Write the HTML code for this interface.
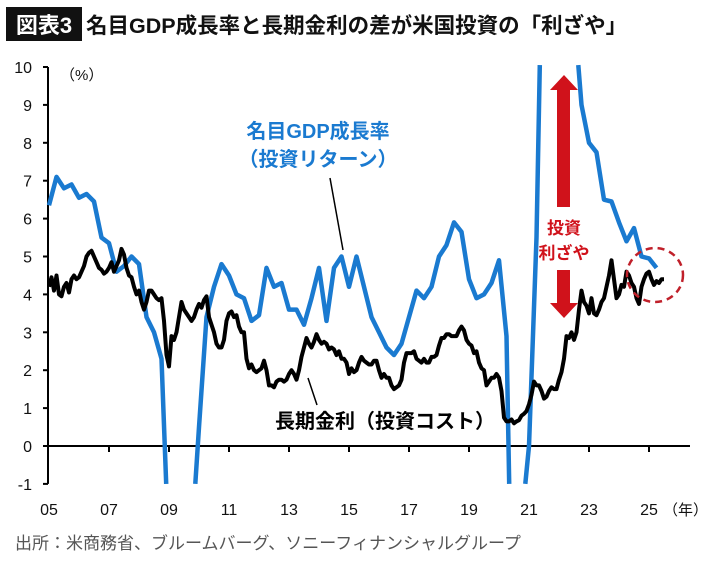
<!DOCTYPE html>
<html><head><meta charset="utf-8"><style>
html,body{margin:0;padding:0;background:#fff;width:710px;height:561px;overflow:hidden;}
svg{display:block;overflow:hidden;font-family:"Liberation Sans","Noto Sans CJK JP",sans-serif;}
</style></head><body>
<svg id="c" width="710" height="561" viewBox="0 0 710 561" xmlns="http://www.w3.org/2000/svg">
<rect x="6" y="7" width="76" height="34" fill="#111"/>
<text x="44" y="33" fill="#fff" font-size="22" font-weight="bold" text-anchor="middle">図表3</text>
<text x="86" y="33" fill="#111" font-size="21.5" font-weight="bold">名目GDP成長率と長期金利の差が米国投資の「利ざや」</text>
<text x="60" y="80" font-size="15" fill="#111">（%）</text>
<g id="axes"></g>
<path id="gdp" fill="none" stroke="#1a7ad0" stroke-width="4.5" stroke-linejoin="round"/>
<polyline id="yield" fill="none" stroke="#000" stroke-width="4" stroke-linejoin="round"/>
<text x="318" y="138" fill="#1a7ad0" font-size="20" font-weight="bold" text-anchor="middle">名目GDP成長率</text>
<text x="318" y="166" fill="#1a7ad0" font-size="20" font-weight="bold" text-anchor="middle">（投資リターン）</text>
<line x1="330" y1="178" x2="343" y2="250" stroke="#000" stroke-width="1.5"/>
<text x="385" y="428" fill="#000" font-size="20" font-weight="bold" text-anchor="middle">長期金利（投資コスト）</text>
<line x1="308" y1="378" x2="317" y2="405" stroke="#000" stroke-width="1.5"/>
<g fill="#d0121b">
<polygon points="564,75 578,90 570,90 570,207 557,207 557,90 550,90"/>
<polygon points="564,318 578,303 570,303 570,270 557,270 557,303 550,303"/>
</g>
<text x="564" y="234" fill="#d0121b" font-size="17" font-weight="bold" text-anchor="middle">投資</text>
<text x="564" y="259" fill="#d0121b" font-size="17" font-weight="bold" text-anchor="middle">利ざや</text>
<ellipse cx="655" cy="275" rx="28" ry="27" fill="none" stroke="#c0202a" stroke-width="2.5" stroke-dasharray="7,5"/>
<text x="15" y="549" fill="#555" font-size="17">出所：米商務省、ブルームバーグ、ソニーフィナンシャルグループ</text>
</svg>
<script>
const yTicks=[10,9,8,7,6,5,4,3,2,1,0,-1];
const xTickLabels=["05","07","09","11","13","15","17","19","21","23","25"];
const xTickYears=[2005,2007,2009,2011,2013,2015,2017,2019,2021,2023,2025];
const gdpStart=2005;
const gdpValues=[6.35,7.1,6.8,6.9,6.55,6.65,6.45,5.5,5.35,4.6,4.75,5.0,4.8,3.4,3.0,2.3,-3,-4,-3,-2.5,0.5,3.4,4.2,4.8,4.5,4.0,3.9,3.3,3.45,4.7,4.2,4.3,3.6,3.6,3.2,3.9,4.7,3.3,4.7,5.0,4.2,5.0,4.2,3.4,3.0,2.6,2.4,2.7,3.4,4.1,3.9,4.2,5.0,5.3,5.9,5.65,4.4,3.9,4.0,4.3,4.9,2.9,-8,-2.0,0.0,5.5,16,15,13,12.5,11.5,9.0,8.0,7.75,6.5,6.45,5.9,5.4,5.75,5.0,4.95,4.7];
const yieldStart=2005;
const yieldValues=[
4.2,4.45,4.1,4.5,4.0,3.95,4.2,4.3,4.05,4.4,4.5,4.4,
4.45,4.6,4.75,5.0,5.1,5.15,5.0,4.85,4.7,4.65,4.55,4.6,
4.7,4.85,4.6,4.75,4.9,5.2,5.05,4.7,4.5,4.45,4.2,4.0,
4.1,3.8,3.6,3.8,4.1,4.1,4.0,3.9,3.85,3.9,3.3,2.4,
2.1,2.9,2.8,3.0,3.4,3.8,3.6,3.5,3.4,3.3,3.4,3.6,
3.75,3.65,3.85,3.95,3.4,3.2,3.0,2.7,2.6,2.6,2.8,3.3,
3.5,3.55,3.4,3.45,3.15,3.0,3.0,2.3,2.05,2.15,2.0,1.95,
2.0,2.05,2.25,2.0,1.6,1.6,1.55,1.7,1.75,1.75,1.7,1.75,
1.9,2.0,1.9,1.75,2.0,2.35,2.6,2.85,2.7,2.6,2.75,2.95,
2.8,2.7,2.75,2.7,2.55,2.6,2.55,2.4,2.5,2.3,2.3,2.2,
1.9,2.05,1.95,2.0,2.2,2.35,2.25,2.2,2.15,2.15,2.25,2.25,
2.0,1.8,1.9,1.8,1.8,1.6,1.5,1.55,1.6,1.75,2.2,2.45,
2.45,2.45,2.5,2.3,2.25,2.2,2.3,2.2,2.2,2.35,2.35,2.4,
2.65,2.85,2.85,2.95,2.95,2.9,2.9,2.9,3.05,3.15,3.05,2.8,
2.7,2.65,2.45,2.5,2.2,2.05,2.0,1.6,1.7,1.8,1.8,1.9,
1.8,1.45,0.75,0.65,0.65,0.7,0.6,0.65,0.68,0.8,0.85,0.92,
1.1,1.35,1.7,1.6,1.6,1.45,1.25,1.3,1.45,1.55,1.5,1.5,
1.75,1.95,2.3,2.9,2.85,3.0,2.8,3.0,3.6,4.1,3.8,3.7,
3.5,3.9,3.5,3.45,3.6,3.8,3.9,4.2,4.5,4.9,4.4,3.9,
4.0,4.25,4.2,4.6,4.5,4.3,4.2,3.9,3.75,4.2,4.4,4.55,
4.6,4.4,4.25,4.35,4.3,4.4,4.4];

const Y_MIN=-1, Y_MAX=10.05;
const X=t=>49+(t-2005)*30;
const Y=v=>446-v*37.9;
const NS="http://www.w3.org/2000/svg";
const axes=document.getElementById('axes');
function mk(tag,attrs){const e=document.createElementNS(NS,tag);for(const k in attrs)e.setAttribute(k,attrs[k]);axes.appendChild(e);return e;}
let e=mk('line',{x1:48,y1:Y(10),x2:48,y2:Y(-1),stroke:'#000','stroke-width':2});


e=mk('line',{x1:48,y1:Y(0),x2:690,y2:Y(0),stroke:'#000','stroke-width':2});


yTicks.forEach(v=>{
  const t=mk('line',{x1:43,y1:Y(v),x2:48,y2:Y(v),stroke:'#000','stroke-width':2});
  
  
  const l=mk('text',{x:32,y:Y(v)+6,'font-size':16,'text-anchor':'end',fill:'#111'});
  l.textContent=v;
  
  
});
xTickYears.forEach((yr,i)=>{
  if(i>0){const t=mk('line',{x1:X(yr),y1:Y(0),x2:X(yr),y2:Y(0)+6,stroke:'#000','stroke-width':2});
  
  }
  const l=mk('text',{x:X(yr),y:515,'font-size':16,'text-anchor':'middle',fill:'#111'});
  l.textContent=xTickLabels[i];
  
  
});
const yl=mk('text',{x:663,y:515,'font-size':15,fill:'#111'});
yl.textContent='（年）';



// clip the GDP line to the plot range by interpolating segment crossings
function clippedPath(ts,vs){
  let d='',pen=false;
  const inR=v=>v>=Y_MIN&&v<=Y_MAX;
  const pt=(t,v)=>X(t).toFixed(1)+','+Y(v).toFixed(1);
  for(let i=0;i<vs.length;i++){
    const t=ts[i],v=vs[i];
    if(i>0){
      const t0=ts[i-1],v0=vs[i-1];
      for(const b of [Y_MIN,Y_MAX]){
        if((v0-b)*(v-b)<0){
          const tc=t0+(t-t0)*(b-v0)/(v-v0);
          if(pen){d+=' L'+pt(tc,b);pen=false;}
          else{d+=' M'+pt(tc,b);pen=true;}
        }
      }
    }
    if(inR(v)){d+=(pen?' L':' M')+pt(t,v);pen=true;}
    else pen=false;
  }
  return d;
}
const gdpTimes=gdpValues.map((v,i)=>gdpStart+i*0.25);
document.getElementById('gdp').setAttribute('d',clippedPath(gdpTimes,gdpValues));
document.getElementById('yield').setAttribute('points',yieldValues.map((v,i)=>X(yieldStart+i/12).toFixed(1)+','+Y(v).toFixed(1)).join(' '));
</script>
</body></html>
